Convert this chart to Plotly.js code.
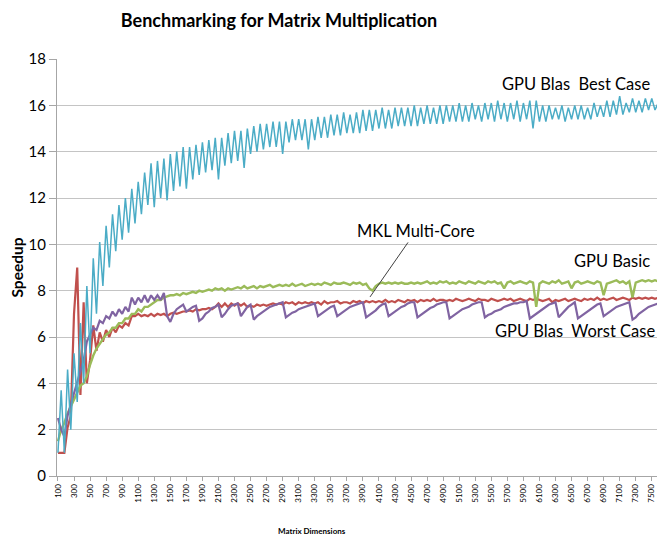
<!DOCTYPE html>
<html>
<head>
<meta charset="utf-8">
<script src="https://cdn.plot.ly/plotly-3.0.1.min.js"></script>
<style>html,body{margin:0;padding:0;background:#fff;}#chart{width:658px;height:535px;}</style>
</head>
<body>
<div id="chart"></div>
<script>
const matrixDims = [
100,140,180,220,260,300,340,380,420,460,
500,540,580,620,660,700,740,780,820,860,
900,940,980,1020,1060,1100,1140,1180,1220,1260,
1300,1340,1380,1420,1460,1500,1540,1580,1620,1660,
1700,1740,1780,1820,1860,1900,1940,1980,2020,2060,
2100,2140,2180,2220,2260,2300,2340,2380,2420,2460,
2500,2540,2580,2620,2660,2700,2740,2780,2820,2860,
2900,2940,2980,3020,3060,3100,3140,3180,3220,3260,
3300,3340,3380,3420,3460,3500,3540,3580,3620,3660,
3700,3740,3780,3820,3860,3900,3940,3980,4020,4060,
4100,4140,4180,4220,4260,4300,4340,4380,4420,4460,
4500,4540,4580,4620,4660,4700,4740,4780,4820,4860,
4900,4940,4980,5020,5060,5100,5140,5180,5220,5260,
5300,5340,5380,5420,5460,5500,5540,5580,5620,5660,
5700,5740,5780,5820,5860,5900,5940,5980,6020,6060,
6100,6140,6180,6220,6260,6300,6340,6380,6420,6460,
6500,6540,6580,6620,6660,6700,6740,6780,6820,6860,
6900,6940,6980,7020,7060,7100,7140,7180,7220,7260,
7300,7340,7380,7420,7460,7500,7540,7580];

const tickDims = [100,300,500,700,900,1100,1300,1500,1700,1900,2100,2300,2500,2700,2900,3100,3300,3500,3700,3900,4100,4300,4500,4700,4900,5100,5300,5500,5700,5900,6100,6300,6500,6700,6900,7100,7300,7500];

const gpuBlasBest = [
1.0,3.7,1.0,4.6,2.0,5.3,3.2,6.6,4.0,8.2,
5.3,9.4,7.0,10.1,8.2,10.8,9.0,11.3,9.7,11.7,
10.2,12.0,10.5,12.4,10.9,12.7,11.3,13.1,11.7,13.5,
11.6,13.6,12.0,13.7,11.9,13.9,12.3,14.0,12.5,14.2,
12.4,14.2,12.8,14.3,13.0,14.4,13.1,14.5,13.2,14.6,
12.8,14.6,13.4,14.8,13.5,14.9,13.6,14.9,13.3,15.0,
13.9,15.1,14.0,15.2,14.1,15.2,14.2,15.3,14.2,15.3,
13.9,15.3,14.4,15.4,14.5,15.4,14.5,15.4,14.1,15.4,
14.5,15.5,14.6,15.5,14.6,15.6,14.7,15.6,14.7,15.7,
14.8,15.6,14.8,15.7,14.8,15.8,14.9,15.8,14.9,15.8,
15.0,15.9,15.0,15.8,15.0,15.9,15.1,15.9,15.1,15.9,
15.1,16.0,15.1,15.9,15.2,16.0,15.2,15.9,15.2,16.0,
15.2,16.0,15.3,16.0,15.3,16.1,15.3,16.0,15.3,16.1,
15.4,16.0,15.3,16.1,15.4,16.1,15.3,16.2,15.4,16.1,
15.3,16.1,15.4,16.2,15.3,16.1,15.4,16.2,15.0,16.2,
15.3,16.0,15.3,16.0,15.4,15.9,15.4,16.0,15.3,15.9,
15.4,16.0,15.4,16.0,15.4,15.9,15.4,16.1,15.5,16.0,
15.5,16.2,15.5,16.2,15.6,16.4,15.6,16.1,15.7,16.3,
15.7,16.2,15.7,16.3,15.8,16.3,15.8,16.1];

const mklMultiCore = [
1.0,1.0,1.0,2.1,2.6,7.0,9.0,3.5,7.5,4.0,
5.0,6.5,5.4,6.2,5.8,6.3,6.0,6.4,6.2,6.5,
6.4,6.6,6.5,6.9,6.9,7.0,6.9,6.95,6.9,7.0,
6.9,7.0,6.95,7.0,6.9,7.0,7.05,7.0,7.05,7.1,
7.1,7.15,7.1,7.2,7.15,7.2,7.2,7.25,7.2,7.3,
7.45,7.3,7.45,7.3,7.45,7.35,7.45,7.35,7.45,7.3,
7.35,7.3,7.4,7.35,7.4,7.35,7.4,7.45,7.4,7.45,
7.4,7.5,7.45,7.5,7.4,7.5,7.45,7.5,7.45,7.5,
7.45,7.5,7.4,7.55,7.45,7.5,7.5,7.55,7.45,7.5,
7.5,7.45,7.55,7.5,7.55,7.45,7.55,7.5,7.55,7.5,
7.55,7.5,7.6,7.5,7.55,7.5,7.6,7.55,7.5,7.6,
7.55,7.6,7.5,7.6,7.55,7.6,7.55,7.65,7.55,7.6,
7.6,7.55,7.6,7.55,7.65,7.6,7.55,7.6,7.65,7.6,
7.55,7.65,7.6,7.6,7.55,7.65,7.6,7.55,7.6,7.65,
7.6,7.65,7.55,7.6,7.65,7.6,7.55,7.65,7.6,7.65,
7.6,7.55,7.6,7.65,7.5,7.6,7.55,7.6,7.65,7.55,
7.6,7.65,7.6,7.55,7.65,7.6,7.65,7.6,7.7,7.6,
7.65,7.6,7.65,7.7,7.6,7.65,7.7,7.65,7.6,7.7,
7.65,7.7,7.65,7.7,7.65,7.7,7.65,7.7];

const gpuBasic = [
1.5,2.0,2.3,2.7,3.0,3.3,3.6,3.9,4.0,4.3,
4.8,5.2,5.5,5.7,5.9,6.1,6.2,6.4,6.4,6.6,
6.6,6.8,6.8,7.0,7.0,7.2,7.1,7.3,7.3,7.4,
7.5,7.6,7.6,7.7,7.75,7.8,7.8,7.85,7.8,7.9,
7.85,7.9,7.95,7.9,8.0,7.95,8.0,8.05,8.0,8.1,
8.05,8.1,8.0,8.1,8.05,8.1,8.15,8.1,8.2,8.1,
8.15,8.2,8.1,8.2,8.15,8.2,8.25,8.15,8.2,8.25,
8.2,8.25,8.2,8.3,8.2,8.25,8.3,8.2,8.25,8.3,
8.25,8.3,8.25,8.35,8.3,8.25,8.35,8.3,8.3,8.35,
8.3,8.25,8.35,8.3,8.35,8.25,8.3,8.1,8.0,8.2,
8.3,8.35,8.3,8.35,8.3,8.35,8.3,8.35,8.3,8.3,
8.35,8.3,8.35,8.3,8.35,8.4,8.3,8.35,8.3,8.4,
8.35,8.4,8.3,8.35,8.3,8.4,8.35,8.3,8.4,8.35,
8.3,8.4,8.35,8.3,8.4,8.35,8.4,8.3,8.35,8.1,
8.35,8.4,8.3,8.35,8.4,8.35,8.3,8.4,8.35,7.3,
8.3,8.4,8.35,8.3,8.4,8.35,8.45,8.3,8.35,8.4,
8.1,8.35,8.4,8.3,8.35,8.4,8.35,8.3,8.4,8.35,
7.8,8.3,8.35,8.4,8.45,8.35,8.4,8.3,8.4,7.7,
8.35,8.4,8.45,8.4,8.45,8.4,8.45,8.4];

const gpuBlasWorst = [
2.5,2.0,1.7,2.6,3.1,3.6,4.0,4.5,5.0,5.8,
6.1,6.4,6.3,6.7,6.6,6.9,6.8,7.1,6.9,7.2,
7.0,7.3,7.1,7.7,7.4,7.7,7.5,7.8,7.5,7.8,
7.6,7.8,7.6,7.9,6.9,6.65,7.0,7.2,7.3,7.4,
7.1,7.2,7.3,7.35,6.7,6.8,7.0,7.1,7.25,7.3,
7.4,6.85,7.0,7.2,7.35,7.4,7.45,6.9,7.1,7.3,
7.4,6.75,6.9,7.0,7.1,7.2,7.3,7.35,7.4,7.45,
7.5,6.85,6.95,7.05,7.1,7.2,7.25,7.3,7.35,7.4,
7.45,6.9,7.0,7.1,7.2,7.3,7.35,6.9,7.0,7.1,
7.2,7.3,7.35,7.4,7.45,7.5,6.85,6.95,7.05,7.15,
7.3,7.4,7.45,6.9,7.0,7.1,7.2,7.3,7.35,7.45,
7.5,7.5,6.85,6.95,7.05,7.15,7.25,7.3,7.4,7.45,
7.5,7.5,6.8,6.9,7.0,7.1,7.2,7.25,7.3,7.4,
7.45,7.5,7.5,6.85,6.95,7.0,7.1,7.15,7.2,7.3,
7.35,7.4,7.45,7.45,7.5,7.5,7.55,6.8,6.9,7.0,
7.1,7.2,7.3,7.4,7.45,7.5,6.85,7.0,7.15,7.3,
7.4,7.5,6.8,6.9,7.0,7.1,7.2,7.3,7.4,7.45,
6.9,7.0,7.1,7.2,7.3,7.35,7.4,7.45,7.5,6.75,
6.85,7.0,7.1,7.2,7.3,7.35,7.4,7.45];

const FONT = 'Lato, "Open Sans", sans-serif';

const traces = [
  {x: matrixDims, y: mklMultiCore, name: 'MKL Multi-Core', type: 'scatter', mode: 'lines',
   line: {color: '#c0504d', width: 2.2}},
  {x: matrixDims, y: gpuBasic, name: 'GPU Basic', type: 'scatter', mode: 'lines',
   line: {color: '#9bbb59', width: 2.4}},
  {x: matrixDims, y: gpuBlasWorst, name: 'GPU Blas Worst Case', type: 'scatter', mode: 'lines',
   line: {color: '#8064a2', width: 2.2}},
  {x: matrixDims, y: gpuBlasBest, name: 'GPU Blas Best Case', type: 'scatter', mode: 'lines',
   line: {color: '#4bacc6', width: 1.5}}
];

const layout = {
  width: 658, height: 535,
  margin: {l: 57, r: 1, t: 59, b: 59},
  paper_bgcolor: '#ffffff', plot_bgcolor: '#ffffff',
  showlegend: false,
  font: {family: FONT, color: '#000'},
  title: {text: '<b>Benchmarking for Matrix Multiplication</b>',
    font: {family: FONT, size: 18, color: '#000'},
    x: 0.37, xref: 'paper', xanchor: 'center', y: 0.961, yref: 'container', yanchor: 'middle'},
  xaxis: {
    range: [88, 7565], tickmode: 'array', tickvals: tickDims, ticktext: tickDims.map(String),
    tickangle: -90, tickfont: {family: FONT, size: 8, color: '#000'},
    ticks: 'outside', ticklen: 4, tickcolor: '#a6a6a6',
    showline: true, linecolor: '#a6a6a6', linewidth: 1, showgrid: false, zeroline: false
  },
  yaxis: {
    range: [0, 18], dtick: 2, tickfont: {family: FONT, size: 15, color: '#000'},
    ticks: 'outside', ticklen: 7, tickcolor: '#a6a6a6',
    showline: true, linecolor: '#a6a6a6', linewidth: 1,
    gridcolor: '#c4c4c4', gridwidth: 1, zeroline: false,
    title: {text: '<b>Speedup</b>', font: {family: FONT, size: 15.5, color: '#000'}, standoff: 1}
  },
  annotations: [
    {text: '<b>Matrix Dimensions</b>', xref: 'paper', yref: 'paper', x: 0.425, y: -0.132,
     xanchor: 'center', yanchor: 'middle', showarrow: false, font: {family: FONT, size: 8, color: '#000'}},
    {text: 'GPU Blas  Best Case', xref: 'paper', yref: 'y', x: 0.992, y: 16.92,
     xanchor: 'right', yanchor: 'middle', showarrow: false, font: {family: FONT, size: 16.5, color: '#000'}},
    {text: 'GPU Basic', xref: 'paper', yref: 'y', x: 0.992, y: 9.28,
     xanchor: 'right', yanchor: 'middle', showarrow: false, font: {family: FONT, size: 16.5, color: '#000'}},
    {text: 'GPU Blas  Worst Case', xref: 'paper', yref: 'y', x: 1.0, y: 6.26,
     xanchor: 'right', yanchor: 'middle', showarrow: false, font: {family: FONT, size: 16.5, color: '#000'}},
    {text: 'MKL Multi-Core', xref: 'x', yref: 'y', x: 3989, y: 7.73,
     ax: 46, ay: -66, showarrow: true, arrowhead: 0, arrowwidth: 1, arrowcolor: '#404040',
     font: {family: FONT, size: 16.5, color: '#000'}}
  ]
};

Plotly.newPlot('chart', traces, layout, {displayModeBar: false, staticPlot: true});
</script>
</body>
</html>
